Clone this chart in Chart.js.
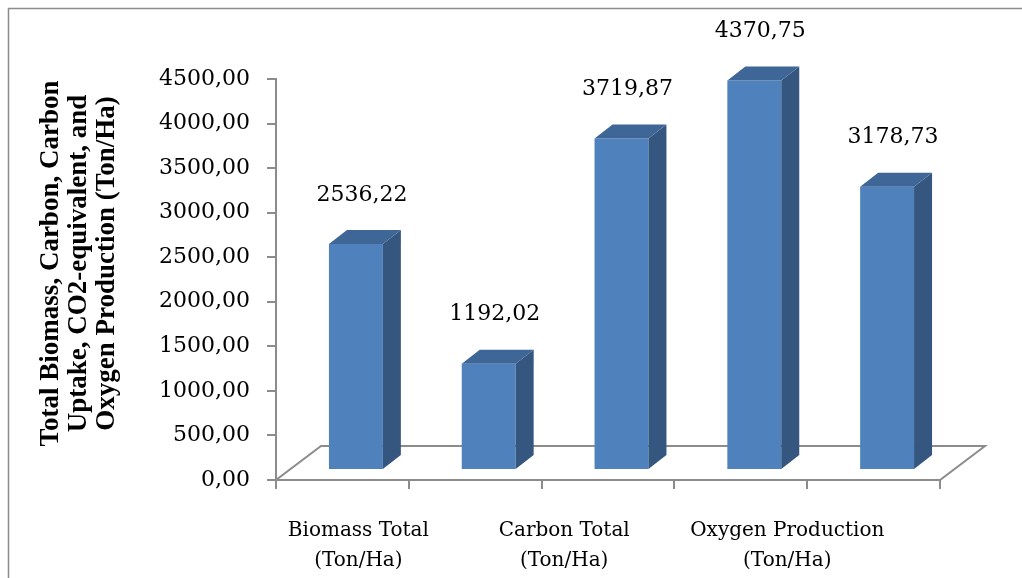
<!DOCTYPE html>
<html><head><meta charset="utf-8">
<script src="https://cdn.jsdelivr.net/npm/chart.js@4/dist/chart.umd.min.js"></script>
<style>html,body{margin:0;padding:0;background:#fff;}canvas{display:block}</style>
</head><body>
<canvas id="c" width="1022" height="578"></canvas>
<script>
// ---- data ----
const categories = ['Biomass Total', '', 'Carbon Total', '', 'Oxygen Production'];
const unitText = '(Ton/Ha)';
const values = [2536.22, 1192.02, 3719.87, 4370.75, 3178.73];
const yMin = 0, yMax = 4500, yStep = 500;
const yTitleLines = ['Total Biomass, Carbon, Carbon', 'Uptake, CO2-equivalent, and', 'Oxygen Production (Ton/Ha)'];

// ---- style ----
const labelSlots = [0.12, 1.67, 3.35];   // where the category text sits (in category units)
const FRONT = {dx: 13.5, dy: -10};
const DEPTH = {dx: 18, dy: -14};
const FLOOR = {dx: 45, dy: -34};
const GRAY = '#8c8c8c';
const fmt = v => v.toFixed(2).replace('.', ',');

const threeD = {
  id: 'threeD',
  beforeDraw(chart) {
    const ctx = chart.ctx;
    ctx.save();
    ctx.strokeStyle = GRAY; ctx.lineWidth = 1.5;
    ctx.beginPath(); ctx.moveTo(8.5, 600); ctx.lineTo(8.5, 8.5); ctx.lineTo(1030, 8.5); ctx.stroke();
    ctx.restore();
  },
  beforeDatasetsDraw(chart) {
    const {ctx, chartArea: a, scales: {x}} = chart;
    ctx.save();
    ctx.strokeStyle = GRAY; ctx.lineWidth = 2;
    ctx.beginPath();
    ctx.moveTo(a.left, a.bottom); ctx.lineTo(a.right, a.bottom);
    ctx.lineTo(a.right + FLOOR.dx, a.bottom + FLOOR.dy);
    ctx.lineTo(a.left + FLOOR.dx, a.bottom + FLOOR.dy);
    ctx.closePath(); ctx.stroke();
    for (let i = 0; i <= categories.length; i++) {
      const px = Math.round(x.getPixelForValue(i - 0.5));
      ctx.beginPath(); ctx.moveTo(px, a.bottom); ctx.lineTo(px, a.bottom + 9); ctx.stroke();
    }
    ctx.restore();
    ctx.save();
    ctx.translate(FRONT.dx, FRONT.dy);
  },
  afterDatasetsDraw(chart) {
    const {ctx, chartArea: a, scales: {x}} = chart;
    ctx.restore();
    const meta = chart.getDatasetMeta(0);
    ctx.save();
    meta.data.forEach((bar, i) => {
      const p = bar.getProps(['x', 'y', 'base', 'width'], true);
      const L = p.x - p.width / 2 + FRONT.dx, R = p.x + p.width / 2 + FRONT.dx;
      const T = p.y + FRONT.dy, B = p.base + FRONT.dy;
      ctx.fillStyle = '#35567f';
      ctx.beginPath(); ctx.moveTo(R, T); ctx.lineTo(R + DEPTH.dx, T + DEPTH.dy);
      ctx.lineTo(R + DEPTH.dx, B + DEPTH.dy); ctx.lineTo(R, B); ctx.closePath(); ctx.fill();
      ctx.fillStyle = '#3e6697';
      ctx.beginPath(); ctx.moveTo(L, T); ctx.lineTo(L + DEPTH.dx, T + DEPTH.dy);
      ctx.lineTo(R + DEPTH.dx, T + DEPTH.dy); ctx.lineTo(R, T); ctx.closePath(); ctx.fill();
      ctx.fillStyle = '#000';
      ctx.font = '22px "DejaVu Serif"';
      ctx.textAlign = 'center'; ctx.textBaseline = 'middle';
      ctx.fillText(fmt(values[i]), p.x + FRONT.dx + 6, T - 49);
    });
    // category labels
    ctx.font = '20px "DejaVu Serif"';
    ctx.fillStyle = '#000'; ctx.textAlign = 'center'; ctx.textBaseline = 'middle';
    const shown = categories.filter(c => c !== '');
    shown.forEach((c, k) => {
      const px = x.getPixelForValue(labelSlots[k]);
      ctx.fillText(c, px, a.bottom + 51);
      ctx.fillText(unitText, px, a.bottom + 81);
    });
    // y axis title
    ctx.font = 'bold 27px "Liberation Serif"';
    yTitleLines.forEach((t, k) => {
      ctx.save();
      ctx.translate(51 + k * 28, (a.top + a.bottom) / 2 - 16);
      ctx.rotate(-Math.PI / 2);
      ctx.fillText(t, 0, 0);
      ctx.restore();
    });
    ctx.restore();
  }
};

new Chart(document.getElementById('c'), {
  type: 'bar',
  data: {
    labels: categories,
    datasets: [{data: values, backgroundColor: '#4f81bd', borderWidth: 0,
      barPercentage: 0.406, categoryPercentage: 1}]
  },
  options: {
    responsive: false, animation: false, devicePixelRatio: 1,
    layout: {padding: {left: 0, right: 82, top: 79, bottom: 98}},
    plugins: {legend: {display: false}, tooltip: {enabled: false}},
    scales: {
      x: {display: false},
      y: {
        min: yMin, max: yMax,
        ticks: {stepSize: yStep, color: '#000', padding: 17,
          font: {family: 'DejaVu Serif', size: 22}, callback: v => fmt(v)},
        grid: {drawOnChartArea: false, drawTicks: true, tickLength: 9, color: GRAY, lineWidth: 2},
        border: {display: true, color: GRAY, width: 2},
        afterFit(s) { s.width = 276; }
      }
    }
  },
  plugins: [threeD]
});
</script>
</body></html>
